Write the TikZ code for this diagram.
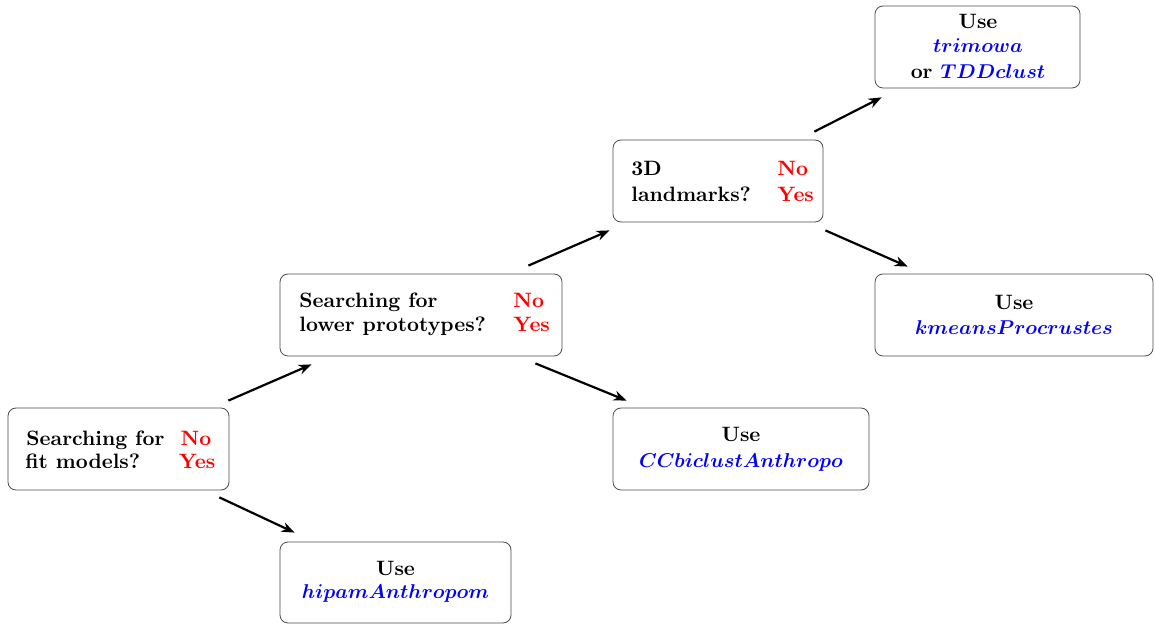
\documentclass[tikz,border=0pt]{standalone}
\usetikzlibrary{arrows.meta}
\newcommand{\pkgname}[1]{{\color{blue}\boldmath$#1$}}
\begin{document}
\begin{tikzpicture}[x=0.5pt,y=-0.5pt,
  box/.style={draw=black!70, line width=0.4pt, rounded corners=4pt, inner sep=0pt, fill=white},
  txt/.style={inner sep=0pt, font=\fontsize{10.4}{12}\selectfont\bfseries},
  lt/.style={txt, anchor=base west},
  ct/.style={txt, anchor=base},
  ans/.style={lt, text=red},
  arr/.style={-{Stealth[length=6.5pt,width=5pt]}, line width=1.1pt}]
\useasboundingbox (0,0) rectangle (1155,624);
% boxes
\node[box, minimum width=110.5pt, minimum height=41pt] (A) at (118.5,449) {};
\node[box, minimum width=141pt, minimum height=41pt] (B) at (421,315) {};
\node[box, minimum width=105pt, minimum height=41pt] (C) at (718,181) {};
\node[box, minimum width=102.5pt, minimum height=41pt] (D) at (977.5,47) {};
\node[box, minimum width=139pt, minimum height=41pt] (E) at (1014,315) {};
\node[box, minimum width=128pt, minimum height=41pt] (F) at (741,449) {};
\node[box, minimum width=115.5pt, minimum height=40.5pt] (G) at (395.5,582.5) {};
% texts A
\node[lt] (A1) at (26,445) {Searching for};
\node[lt] (A2) at (25,468) {fit models?};
\node[ct, text=red] (Ano) at (196,445) {No};
\node[ct, text=red] (Ayes) at (197,468) {Yes};
% texts B
\node[lt] (B1) at (299,308) {Searching for};
\node[lt] (B2) at (299,332) {lower prototypes?};
\node[ans] (Bno) at (513,308) {No};
\node[ans] (Byes) at (513,332) {Yes};
% texts C
\node[lt] (C1) at (631,176) {3D};
\node[lt] (C2) at (631,202) {landmarks?};
\node[ans] (Cno) at (777,176) {No};
\node[ans] (Cyes) at (777,202) {Yes};
% texts D
\node[ct] (D1) at (978,29) {Use};
\node[ct] (D2) at (978,53) {\pkgname{trimowa}};
\node[ct] (D3) at (978,79) {or \pkgname{TDDclust}};
% texts E
\node[ct] (E1) at (1014,310) {Use};
\node[ct] (E2) at (1014,335) {\pkgname{kmeansProcrustes}};
% texts F
\node[ct] (F1) at (741,442) {Use};
\node[ct] (F2) at (741,467) {\pkgname{CCbiclustAnthropo}};
% texts G
\node[ct] (G1) at (395.5,575) {Use};
\node[ct] (G2) at (395.5,598) {\pkgname{hipamAnthropom}};
% arrows
\draw[arr] ([shift={(-1,-7)}]A.north east) -- ([shift={(32,8)}]B.south west);
\draw[arr] ([shift={(-10,7)}]A.south east) -- ([shift={(15,-9)}]G.north west);
\draw[arr] ([shift={(-34,-8)}]B.north east) -- ([shift={(-3,8)}]C.south west);
\draw[arr] ([shift={(-27,7)}]B.south east) -- ([shift={(14,-7)}]F.north west);
\draw[arr] ([shift={(-9,-8)}]C.north east) -- ([shift={(7,9)}]D.south west);
\draw[arr] ([shift={(2,8)}]C.south east) -- ([shift={(33,-7)}]E.north west);
\end{tikzpicture}
\end{document}
